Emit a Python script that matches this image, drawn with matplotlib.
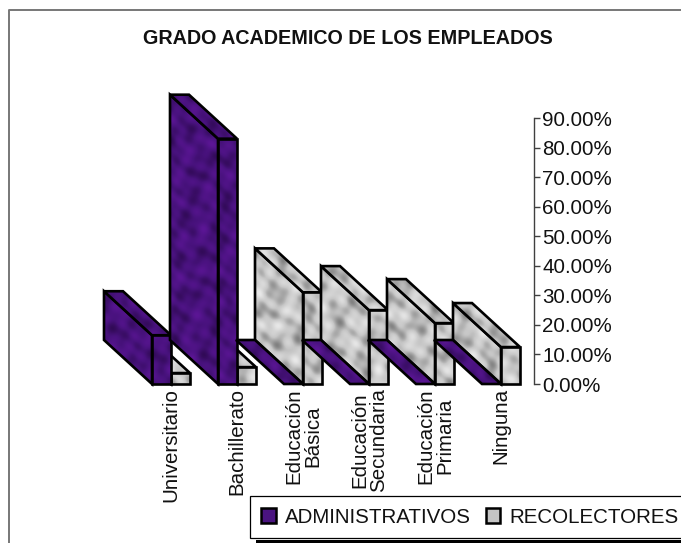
import numpy as np
import matplotlib
matplotlib.use("Agg")
import matplotlib.pyplot as plt
from matplotlib.patches import Patch, Polygon, Rectangle

plt.rcParams["font.family"] = ["Liberation Sans", "DejaVu Sans"]

TITLE = "GRADO ACADEMICO DE LOS EMPLEADOS"
categories = [
    "Universitario",
    "Bachillerato",
    "Educación\nBásica",
    "Educación\nSecundaria",
    "Educación\nPrimaria",
    "Ninguna",
]
administrativos = [16.5, 83.0, 0.0, 0.0, 0.0, 0.0]
recolectores = [3.7, 5.7, 31.0, 25.0, 20.6, 12.5]
value_ticks = [0, 10, 20, 30, 40, 50, 60, 70, 80, 90]

W, H = 681, 543
GROUP_PX = 66
PCT_PX = 266 / 90
BAR_W = 19 / GROUP_PX
DEPTH_X = -48 / GROUP_PX
DEPTH_Y = 44 / PCT_PX


def texture(base, dark, light):
    # mottled fill, sum of diagonal waves
    yy, xx = np.mgrid[0:H, 0:W].astype(float)
    u = xx + yy
    v = xx - yy
    n = (
        np.sin(u / 9.1 + np.sin(v / 23.0) * 2.1)
        + np.sin(v / 5.3 + np.sin(u / 17.0) * 1.7)
        + 0.7 * np.sin(u / 3.7 + v / 11.0)
        + 0.6 * np.sin(v / 2.9 - u / 13.0 + np.sin(xx / 7.0))
    )
    n = n / 3.3
    base, dark, light = np.array(base), np.array(dark), np.array(light)
    t = n[..., None]
    return np.where(t < 0, base + (dark - base) * -t, base + (light - base) * t) / 255


purple_tex = texture((72, 18, 125), (48, 10, 85), (92, 22, 150))
gray_tex = texture((198, 198, 198), (125, 125, 125), (235, 235, 235))

fig = plt.figure(figsize=(W / 100, H / 100), dpi=100, facecolor="white")
ax = fig.add_axes([9 / W, (H - 384) / H, 525 / W, 266 / H])
xlim = ((9 - 171) / GROUP_PX, (534 - 171) / GROUP_PX)
ylim = (0, 90)
full_extent = (
    xlim[0] - 9 / GROUP_PX,
    xlim[0] + (W - 9) / GROUP_PX,
    -(H - 384) / PCT_PX,
    384 / PCT_PX,
)


def face(points, tex, z):
    poly = Polygon(points, closed=True, fill=False, edgecolor="black", linewidth=1.9,
                   joinstyle="miter", clip_on=False, zorder=z + 0.5)
    ax.add_patch(poly)
    im = ax.imshow(tex, extent=full_extent, aspect="auto", origin="upper", zorder=z,
                   interpolation="nearest")
    im.set_clip_box(fig.bbox)
    im.set_clip_path(poly)


def bar3d(x0, value, tex, z):
    x1 = x0 + BAR_W
    dx, dy = DEPTH_X, DEPTH_Y
    if value > 0:
        face([(x0, 0), (x0 + dx, dy), (x0 + dx, value + dy), (x0, value)], tex, z)
        face([(x0, 0), (x1, 0), (x1, value), (x0, value)], tex, z + 2)
    face([(x0, value), (x1, value), (x1 + dx, value + dy), (x0 + dx, value + dy)], tex, z + 1)


# left to right, grey first so the purple front hides its side
z = 2
for i in range(len(categories)):
    bar3d(i, recolectores[i], gray_tex, z)
    bar3d(i - BAR_W, administrativos[i], purple_tex, z + 3)
    z += 6

ax.set_xlim(xlim)
ax.set_ylim(ylim)
ax.patch.set_visible(False)
for side in ["top", "left", "bottom"]:
    ax.spines[side].set_visible(False)
ax.spines["right"].set_color("#404040")
ax.spines["right"].set_linewidth(1.0)
ax.yaxis.tick_right()
ax.set_yticks(value_ticks)
ax.set_yticklabels([f"{v:.2f}%" for v in value_ticks], fontsize=14.8, color="#111111")
ax.tick_params(axis="y", length=4.3, width=1.0, color="#404040", pad=1.5)
ax.set_xticks(range(len(categories)))
ax.set_xticklabels(categories, rotation=90, fontsize=14.8, color="#111111", linespacing=1.0,
                   multialignment="center", va="top", ha="center")
ax.tick_params(axis="x", length=0, pad=3)

fig.add_artist(plt.Line2D([9 / W, 9 / W, 1], [0, 1 - 10 / H, 1 - 10 / H], color="#777777", linewidth=1.4))

fig.text(348 / W, 1 - 38 / H, TITLE, ha="center", va="center", fontsize=14.2, fontweight="bold", color="#111111")

fig.add_artist(Rectangle((256 / W, 0), (W - 256) / W, 3 / H, transform=fig.transFigure, facecolor="black", edgecolor="none"))
handles = [
    Patch(facecolor="#4a1480", edgecolor="black", linewidth=1.8, label="ADMINISTRATIVOS"),
    Patch(facecolor="#c4c4c4", edgecolor="black", linewidth=1.8, label="RECOLECTORES"),
]
leg = fig.legend(
    handles=handles, loc="lower left", bbox_to_anchor=(250 / W, 5 / H), ncol=2,
    fontsize=14.8, frameon=True, fancybox=False, edgecolor="black", framealpha=1,
    handlelength=0.72, handleheight=0.72, handletextpad=0.42, columnspacing=0.72,
    borderaxespad=0, borderpad=0.55,
)
leg.get_frame().set_linewidth(0.9)
for t in leg.get_texts():
    t.set_color("#111111")

fig.savefig("out.png", dpi=100)
